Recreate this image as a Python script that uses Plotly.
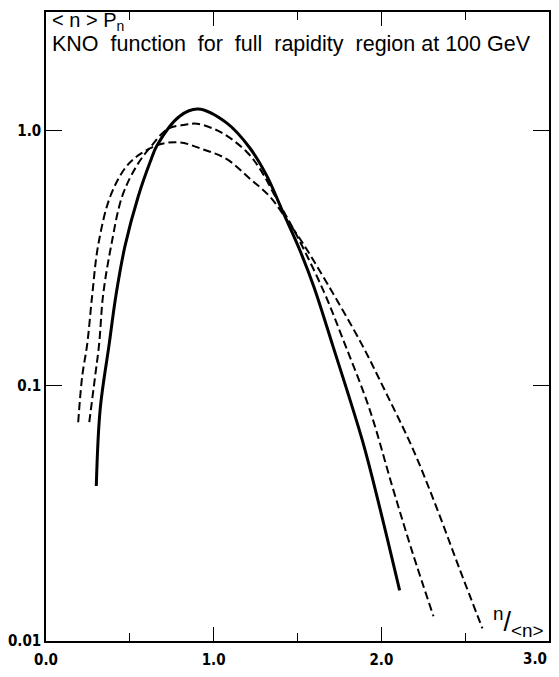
import plotly.graph_objects as go

# Solid curve
solid_x = [0.300, 0.323, 0.377, 0.418, 0.472, 0.550, 0.621, 0.662, 0.799, 0.907, 1.079, 1.216, 1.317, 1.413, 1.514, 1.597, 1.710, 1.889, 1.990, 2.109]
solid_y = [0.0405, 0.0809, 0.146, 0.228, 0.355, 0.552, 0.753, 0.875, 1.142, 1.215, 1.070, 0.855, 0.665, 0.480, 0.340, 0.245, 0.144, 0.0604, 0.0334, 0.0158]

# Middle dashed curve
mid_x = [0.258, 0.293, 0.317, 0.341, 0.389, 0.454, 0.537, 0.621, 0.729, 0.829, 0.901, 1.050, 1.199, 1.276, 1.377, 1.496, 1.657, 1.782, 1.930, 2.067, 2.186, 2.311]
mid_y = [0.072, 0.109, 0.146, 0.228, 0.355, 0.552, 0.721, 0.860, 1.018, 1.054, 1.064, 0.980, 0.823, 0.708, 0.538, 0.388, 0.234, 0.146, 0.0809, 0.0400, 0.0222, 0.0125]

# Wide dashed curve
wide_x = [0.192, 0.216, 0.246, 0.276, 0.311, 0.383, 0.477, 0.561, 0.680, 0.799, 0.936, 1.079, 1.216, 1.335, 1.454, 1.532, 1.680, 1.882, 2.031, 2.186, 2.329, 2.466, 2.603]
wide_y = [0.072, 0.109, 0.146, 0.228, 0.355, 0.552, 0.721, 0.809, 0.884, 0.899, 0.845, 0.773, 0.648, 0.552, 0.430, 0.362, 0.250, 0.146, 0.093, 0.0570, 0.0334, 0.0192, 0.0112]

x_major = [0.0, 1.0, 2.0, 3.0]
x_major_text = ["0.0", "1.0", "2.0", ""]
x_minor = [0.5, 1.5, 2.5]
y_ticks = [0.01, 0.1, 1.0]
y_tick_text = ["0.01", "0.1", "1.0"]

fig = go.Figure()
dash_line = dict(color="black", width=2, dash="8px,4px", shape="spline", smoothing=1.0)
fig.add_trace(go.Scatter(x=wide_x, y=wide_y, mode="lines", line=dash_line))
fig.add_trace(go.Scatter(x=mid_x, y=mid_y, mode="lines", line=dash_line))
fig.add_trace(go.Scatter(x=solid_x, y=solid_y, mode="lines",
                         line=dict(color="black", width=3, shape="spline", smoothing=1.0)))

tickfont = dict(family="Liberation Sans Narrow, DejaVu Sans Condensed", size=15, color="black", weight="bold")

fig.update_layout(
    width=559, height=677,
    margin=dict(l=46, r=8, t=12, b=24),
    paper_bgcolor="white", plot_bgcolor="white",
    showlegend=False,
    xaxis=dict(range=[0, 3], tickvals=x_major, ticktext=x_major_text, ticks="inside", ticklen=14,
               tickwidth=1.3, tickcolor="black", showline=True, linecolor="black", linewidth=1.5,
               mirror="ticks", showgrid=False, zeroline=False, tickfont=tickfont, ticklabelstandoff=4,
               minor=dict(tickvals=x_minor, ticks="inside", ticklen=8, tickwidth=1.3, tickcolor="black", showgrid=False)),
    yaxis=dict(type="log", range=[-2, 0.465], tickvals=y_ticks, ticktext=y_tick_text, ticks="inside", ticklen=16,
               tickwidth=1.3, tickcolor="black", showline=True, linecolor="black", linewidth=1.5,
               mirror="ticks", showgrid=False, zeroline=False, tickfont=tickfont),
)

fig.add_annotation(xref="x", yref="paper", x=3.0, y=0, xanchor="right", yanchor="top", yshift=-7,
                   text="3.0", showarrow=False, font=tickfont)
fig.add_annotation(xref="paper", yref="paper", x=0.008, y=0.985, xanchor="left", yanchor="middle",
                   text="&lt; n &gt; P<sub>n</sub>", showarrow=False,
                   font=dict(family="Liberation Sans", size=20, color="black"))
fig.add_annotation(xref="paper", yref="paper", x=0.008, y=0.949, xanchor="left", yanchor="middle",
                   text="KNO  function  for  full  rapidity  region at 100 GeV", showarrow=False,
                   font=dict(family="Liberation Sans", size=21.5, color="black"))
fig.add_annotation(xref="paper", yref="paper", x=0.994, y=0.03, xanchor="right", yanchor="middle",
                   text="<sup>n</sup>/<sub>&lt;n&gt;</sub>", showarrow=False,
                   font=dict(family="Liberation Sans", size=27, color="black"))

fig.write_html("out.html", config={"displayModeBar": False},
               post_script="document.body.style.margin='0';document.body.style.overflow='hidden';")
